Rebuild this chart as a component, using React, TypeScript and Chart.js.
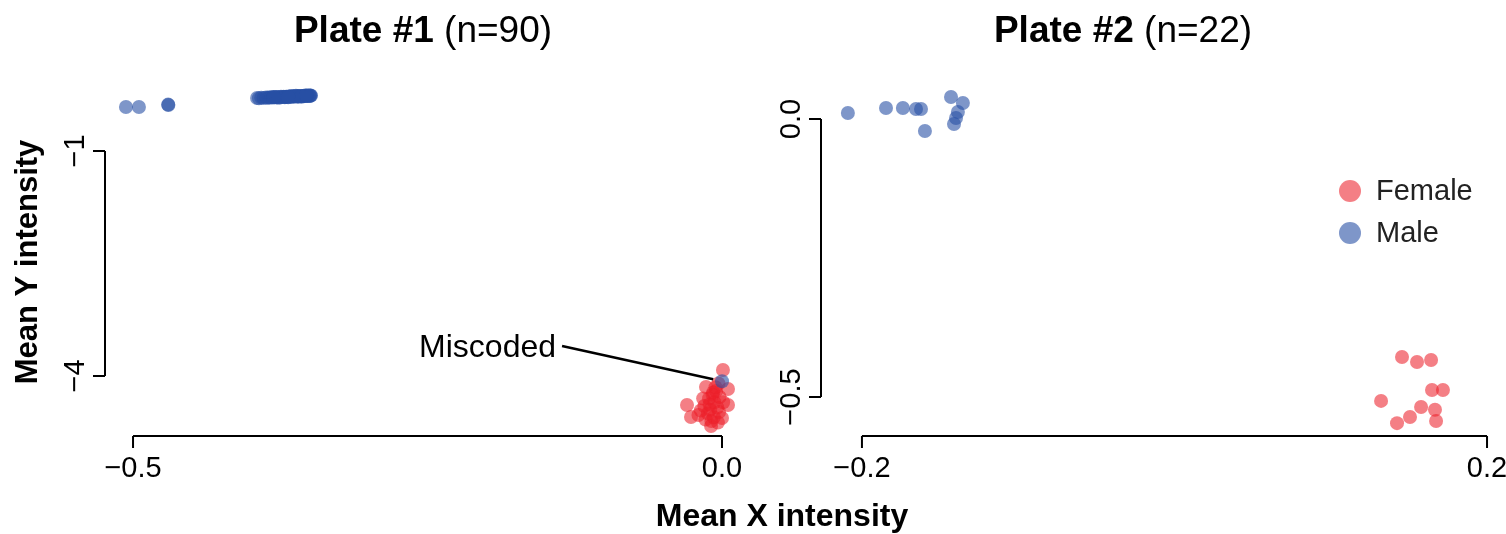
import React, { useEffect, useRef } from "react";
import { Chart, registerables } from "chart.js";

Chart.register(...registerables);

const W = 1506;
const H = 534;
const FONT = '"Liberation Sans", Arial, Helvetica, sans-serif';
const MALE = "rgba(40, 80, 165, 0.6)";
const FEMALE = "rgba(236, 30, 40, 0.57)";

// ---------- Plate #1 (n=90) ----------
const plate1MaleX = [
  -0.506, -0.495, -0.47, -0.4702,
  -0.3947, -0.3931, -0.3912, -0.3893, -0.3871, -0.3859, -0.3846, -0.3834, -0.3822, -0.3809,
  -0.3797, -0.3786, -0.3779, -0.3768, -0.3752, -0.3744, -0.3731, -0.3722, -0.3713, -0.3701,
  -0.3694, -0.3682, -0.3671, -0.3663, -0.3652, -0.3641, -0.3633, -0.3624, -0.3613, -0.3604,
  -0.3597, -0.3586, -0.3574, -0.3566, -0.3558, -0.3547, -0.3539, -0.3531, -0.3522, -0.3516,
  -0.3509, -0.3502, -0.3497, -0.3493, -0.3489, -0.3712, -0.3655, -0.3598, -0.3761, -0.3617,
  -0.3569, -0.3683, -0.3531, -0.3806, 0.0,
];
const plate1MaleY = [
  -0.413, -0.413, -0.387, -0.381,
  -0.293, -0.296, -0.289, -0.292, -0.287, -0.291, -0.285, -0.288, -0.284, -0.286,
  -0.283, -0.281, -0.285, -0.28, -0.282, -0.278, -0.281, -0.277, -0.279, -0.276,
  -0.279, -0.274, -0.277, -0.273, -0.276, -0.272, -0.274, -0.27, -0.273, -0.269,
  -0.271, -0.268, -0.27, -0.266, -0.268, -0.265, -0.267, -0.263, -0.266, -0.262,
  -0.264, -0.261, -0.263, -0.26, -0.262, -0.284, -0.268, -0.275, -0.29, -0.262,
  -0.276, -0.283, -0.257, -0.279, -4.07,
];
const plate1FemaleX = [
  0.0008, -0.0136, 0.0051, -0.0297, -0.0263, 0.0051, -0.0093, 0.0, -0.003, -0.005,
  -0.008, -0.011, -0.002, -0.0065, -0.015, -0.01, -0.004, -0.012, -0.007, -0.018,
  -0.0025, -0.009, -0.014, 0.001, -0.02, -0.0055, -0.0105, -0.016, -0.0035, -0.0075,
];
const plate1FemaleY = [
  -3.92, -4.147, -4.173, -4.387, -4.547, -4.387, -4.667, -4.56, -4.1, -4.2,
  -4.25, -4.3, -4.28, -4.35, -4.4, -4.45, -4.42, -4.5, -4.55, -4.46,
  -4.48, -4.6, -4.58, -4.35, -4.52, -4.15, -4.38, -4.3, -4.62, -4.22,
];
const plate1XTicks = [-0.5, 0.0];
const plate1XTickLabels = ["\u22120.5", "0.0"];
const plate1YTicks = [-1, -4];
const plate1YTickLabels = ["\u22121", "\u22124"];

// ---------- Plate #2 (n=22) ----------
const plate2MaleX = [
  -0.209, -0.1846, -0.1738, -0.1654, -0.1622, -0.1597, -0.143, -0.1354, -0.1386, -0.1398, -0.1411,
];
const plate2MaleY = [
  0.0108, 0.0198, 0.0198, 0.018, 0.018, -0.0216, 0.0396, 0.0288, 0.0126, 0.0018, -0.009,
];
const plate2FemaleX = [
  0.1456, 0.1552, 0.1642, 0.1648, 0.1718, 0.1322, 0.1578, 0.1667, 0.1507, 0.1424, 0.1674,
];
const plate2FemaleY = [
  -0.428, -0.437, -0.4335, -0.4874, -0.4874, -0.507, -0.518, -0.523, -0.536, -0.547, -0.543,
];
const plate2XTicks = [-0.2, 0.2];
const plate2XTickLabels = ["\u22120.2", "0.2"];
const plate2YTicks = [0.0, -0.5];
const plate2YTickLabels = ["0.0", "\u22120.5"];

const legendLabels = ["Female", "Male"];
const legendColors = [FEMALE, MALE];

const toPoints = (xs: number[], ys: number[]) => xs.map((x, i) => ({ x, y: ys[i] }));

type PanelCfg = {
  titleBold: string;
  titleRest: string;
  titleX: number;
  xTicks: number[];
  xLabels: string[];
  yTicks: number[];
  yLabels: string[];
  pad: { left: number; right: number; top: number; bottom: number };
  xRange: [number, number];
  yRange: [number, number];
  male: { x: number; y: number }[];
  female: { x: number; y: number }[];
  yTitle?: string;
  xTitle?: string;
  legend?: boolean;
  miscoded?: { label: string; lx: number; ly: number; tx: number; ty: number };
};

function makePlugin(cfg: PanelCfg) {
  return {
    id: "rstyle",
    afterDraw(chart: any) {
      const ctx: CanvasRenderingContext2D = chart.ctx;
      const xs = chart.scales.x;
      const ys = chart.scales.y;
      const area = chart.chartArea;
      ctx.save();
      ctx.strokeStyle = "#000";
      ctx.fillStyle = "#000";
      ctx.lineWidth = 2;
      ctx.lineCap = "butt";

      // x axis
      const y0 = area.bottom;
      const px = cfg.xTicks.map((t) => xs.getPixelForValue(t));
      ctx.beginPath();
      ctx.moveTo(Math.min(...px), y0);
      ctx.lineTo(Math.max(...px), y0);
      px.forEach((p) => {
        ctx.moveTo(p, y0);
        ctx.lineTo(p, y0 + 12);
      });
      ctx.stroke();
      ctx.font = `29px ${FONT}`;
      ctx.textAlign = "center";
      ctx.textBaseline = "middle";
      px.forEach((p, i) => ctx.fillText(cfg.xLabels[i], p, y0 + 33));

      // y axis
      const x0 = area.left;
      const py = cfg.yTicks.map((t) => ys.getPixelForValue(t));
      ctx.beginPath();
      ctx.moveTo(x0, Math.min(...py));
      ctx.lineTo(x0, Math.max(...py));
      py.forEach((p) => {
        ctx.moveTo(x0, p);
        ctx.lineTo(x0 - 12, p);
      });
      ctx.stroke();
      py.forEach((p, i) => {
        ctx.save();
        ctx.translate(x0 - 29, p);
        ctx.rotate(-Math.PI / 2);
        ctx.fillText(cfg.yLabels[i], 0, 0);
        ctx.restore();
      });

      // title
      const TS = 37;
      const cx = cfg.titleX;
      ctx.font = `bold ${TS}px ${FONT}`;
      const wb = ctx.measureText(cfg.titleBold).width;
      ctx.font = `${TS}px ${FONT}`;
      const wr = ctx.measureText(cfg.titleRest).width;
      const start = cx - (wb + wr) / 2;
      ctx.textAlign = "left";
      ctx.font = `bold ${TS}px ${FONT}`;
      ctx.fillText(cfg.titleBold, start, 32);
      ctx.font = `${TS}px ${FONT}`;
      ctx.fillText(cfg.titleRest, start + wb, 32);

      // axis titles
      if (cfg.yTitle) {
        ctx.save();
        ctx.font = `bold 31px ${FONT}`;
        ctx.textAlign = "center";
        ctx.translate(28, 262);
        ctx.rotate(-Math.PI / 2);
        ctx.fillText(cfg.yTitle, 0, 0);
        ctx.restore();
      }
      if (cfg.xTitle) {
        ctx.font = `bold 32px ${FONT}`;
        ctx.textAlign = "center";
        ctx.fillText(cfg.xTitle, 782, 517);
      }

      // miscoded annotation
      if (cfg.miscoded) {
        const m = cfg.miscoded;
        const lx = xs.getPixelForValue(m.lx);
        const ly = ys.getPixelForValue(m.ly);
        const tx = xs.getPixelForValue(m.tx);
        const ty = ys.getPixelForValue(m.ty);
        const dx = tx - lx;
        const dy = ty - ly;
        const len = Math.sqrt(dx * dx + dy * dy);
        ctx.beginPath();
        ctx.lineWidth = 2.5;
        ctx.moveTo(lx, ly);
        ctx.lineTo(tx - (dx / len) * 9, ty - (dy / len) * 9);
        ctx.stroke();
        ctx.font = `32px ${FONT}`;
        ctx.textAlign = "right";
        ctx.fillText(m.label, lx - 6, ly + 2);
      }

      // legend
      if (cfg.legend) {
        ctx.font = `29px ${FONT}`;
        ctx.textAlign = "left";
        legendLabels.forEach((lab, i) => {
          const ly = 191 + i * 42;
          ctx.beginPath();
          ctx.fillStyle = legendColors[i];
          ctx.arc(1350, ly, 11, 0, Math.PI * 2);
          ctx.fill();
          ctx.fillStyle = "#222";
          ctx.fillText(lab, 1376, ly + 1);
        });
      }
      ctx.restore();
    },
  };
}

function Panel({ cfg }: { cfg: PanelCfg }) {
  const ref = useRef<HTMLCanvasElement>(null);
  useEffect(() => {
    if (!ref.current) return;
    const chart = new Chart(ref.current, {
      type: "scatter",
      data: {
        datasets: [
          {
            label: "Female",
            data: cfg.female,
            pointRadius: 7,
            pointBackgroundColor: FEMALE,
            pointBorderWidth: 0,
            borderWidth: 0,
            order: 2,
          },
          {
            label: "Male",
            data: cfg.male,
            pointRadius: 7,
            pointBackgroundColor: MALE,
            pointBorderWidth: 0,
            borderWidth: 0,
            order: 1,
          },
        ],
      },
      options: {
        animation: false,
        responsive: false,
        events: [],
        clip: false as any,
        layout: { padding: cfg.pad },
        plugins: { legend: { display: false }, tooltip: { enabled: false }, title: { display: false } },
        scales: {
          x: { type: "linear", display: false, min: cfg.xRange[0], max: cfg.xRange[1] },
          y: { type: "linear", display: false, min: cfg.yRange[0], max: cfg.yRange[1] },
        },
      },
      plugins: [makePlugin(cfg)],
    });
    return () => chart.destroy();
  }, []);
  return (
    <canvas
      ref={ref}
      width={W}
      height={H}
      style={{ position: "absolute", left: 0, top: 0, width: W, height: H }}
    />
  );
}

const panel1: PanelCfg = {
  titleBold: "Plate #1",
  titleRest: " (n=90)",
  titleX: 423,
  xTicks: plate1XTicks,
  xLabels: plate1XTickLabels,
  yTicks: plate1YTicks,
  yLabels: plate1YTickLabels,
  pad: { left: 105, right: W - 740, top: 85, bottom: H - 436 },
  xRange: [-0.5238, 0.01528],
  yRange: [-4.8, -0.12],
  male: toPoints(plate1MaleX, plate1MaleY),
  female: toPoints(plate1FemaleX, plate1FemaleY),
  yTitle: "Mean Y intensity",
  xTitle: "Mean X intensity",
  miscoded: { label: "Miscoded", lx: -0.1358, ly: -3.6, tx: 0.0, ty: -4.07 },
};

const panel2: PanelCfg = {
  titleBold: "Plate #2",
  titleRest: " (n=22)",
  titleX: 1123,
  xTicks: plate2XTicks,
  xLabels: plate2XTickLabels,
  yTicks: plate2YTicks,
  yLabels: plate2YTickLabels,
  pad: { left: 821, right: W - 1495, top: 85, bottom: H - 436 },
  xRange: [-0.2262, 0.2051],
  yRange: [-0.5701, 0.0612],
  male: toPoints(plate2MaleX, plate2MaleY),
  female: toPoints(plate2FemaleX, plate2FemaleY),
  legend: true,
};

export default function App() {
  return (
    <div style={{ position: "fixed", left: 0, top: 0, width: W, height: H, background: "#fff" }}>
      <Panel cfg={panel1} />
      <Panel cfg={panel2} />
    </div>
  );
}
